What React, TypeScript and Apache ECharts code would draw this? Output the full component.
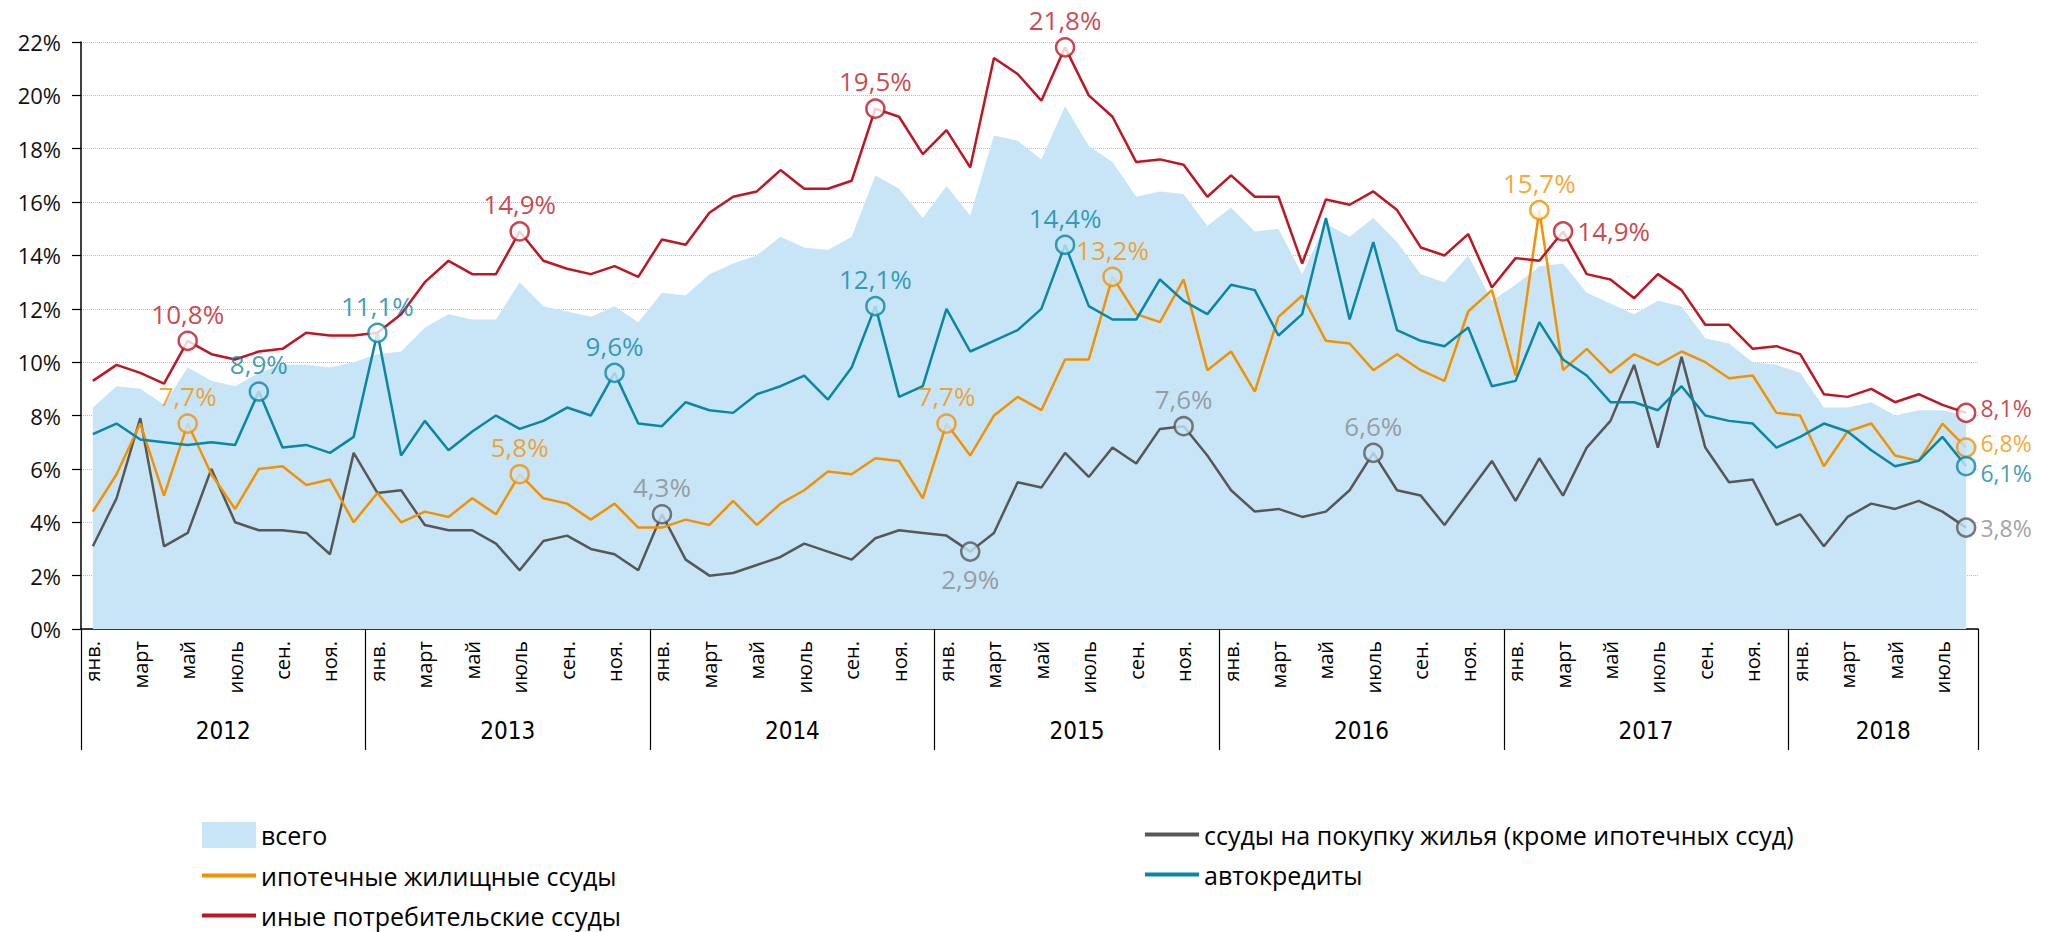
import React, { useEffect, useRef } from "react";
import * as echarts from "echarts";

// ---- categories ----
const monthNames = ["янв.", "февр.", "март", "апр.", "май", "июнь", "июль", "авг.", "сен.", "окт.", "ноя.", "дек."];
const years = [2012, 2013, 2014, 2015, 2016, 2017, 2018];
const monthsPerYear = [12, 12, 12, 12, 12, 12, 8];

// ---- series values, % ----
const total = [
  8.3, 9.1, 9.0, 8.4, 9.8, 9.3, 9.1, 9.6, 9.9, 9.9, 9.8, 10.0,
  10.3, 10.4, 11.3, 11.8, 11.6, 11.6, 13.0, 12.1, 11.9, 11.7, 12.1, 11.5,
  12.6, 12.5, 13.3, 13.7, 14.0, 14.7, 14.3, 14.2, 14.7, 17.0, 16.5, 15.4,
  16.6, 15.5, 18.5, 18.3, 17.6, 19.6, 18.1, 17.5, 16.2, 16.4, 16.3, 15.1,
  15.8, 14.9, 15.0, 13.3, 15.2, 14.7, 15.4, 14.5, 13.3, 13.0, 14.0, 12.3,
  12.9, 13.6, 13.7, 12.6, 12.2, 11.8, 12.3, 12.1, 10.9, 10.7, 10.0, 9.9,
  9.6, 8.3, 8.3, 8.5, 8.0, 8.2, 8.2, 8.0,
];
const mortgage = [
  4.4, 5.8, 7.7, 5.0, 7.7, 5.8, 4.5, 6.0, 6.1, 5.4, 5.6, 4.0,
  5.1, 4.0, 4.4, 4.2, 4.9, 4.3, 5.8, 4.9, 4.7, 4.1, 4.7, 3.8,
  3.8, 4.1, 3.9, 4.8, 3.9, 4.7, 5.2, 5.9, 5.8, 6.4, 6.3, 4.9,
  7.7, 6.5, 8.0, 8.7, 8.2, 10.1, 10.1, 13.2, 11.8, 11.5, 13.1, 9.7,
  10.4, 8.9, 11.7, 12.5, 10.8, 10.7, 9.7, 10.3, 9.7, 9.3, 11.9, 12.7,
  9.5, 15.7, 9.7, 10.5, 9.6, 10.3, 9.9, 10.4, 10.0, 9.4, 9.5, 8.1,
  8.0, 6.1, 7.4, 7.7, 6.5, 6.3, 7.7, 6.8,
];
const otherConsumer = [
  9.3, 9.9, 9.6, 9.2, 10.8, 10.3, 10.1, 10.4, 10.5, 11.1, 11.0, 11.0,
  11.1, 11.8, 13.0, 13.8, 13.3, 13.3, 14.9, 13.8, 13.5, 13.3, 13.6, 13.2,
  14.6, 14.4, 15.6, 16.2, 16.4, 17.2, 16.5, 16.5, 16.8, 19.5, 19.2, 17.8,
  18.7, 17.3, 21.4, 20.8, 19.8, 21.8, 20.0, 19.2, 17.5, 17.6, 17.4, 16.2,
  17.0, 16.2, 16.2, 13.7, 16.1, 15.9, 16.4, 15.7, 14.3, 14.0, 14.8, 12.8,
  13.9, 13.8, 14.9, 13.3, 13.1, 12.4, 13.3, 12.7, 11.4, 11.4, 10.5, 10.6,
  10.3, 8.8, 8.7, 9.0, 8.5, 8.8, 8.4, 8.1,
];
const housing = [
  3.1, 4.9, 7.9, 3.1, 3.6, 6.0, 4.0, 3.7, 3.7, 3.6, 2.8, 6.6,
  5.1, 5.2, 3.9, 3.7, 3.7, 3.2, 2.2, 3.3, 3.5, 3.0, 2.8, 2.2,
  4.3, 2.6, 2.0, 2.1, 2.4, 2.7, 3.2, 2.9, 2.6, 3.4, 3.7, 3.6,
  3.5, 2.9, 3.6, 5.5, 5.3, 6.6, 5.7, 6.8, 6.2, 7.5, 7.6, 6.5,
  5.2, 4.4, 4.5, 4.2, 4.4, 5.2, 6.6, 5.2, 5.0, 3.9, 5.1, 6.3,
  4.8, 6.4, 5.0, 6.8, 7.8, 9.9, 6.8, 10.2, 6.8, 5.5, 5.6, 3.9,
  4.3, 3.1, 4.2, 4.7, 4.5, 4.8, 4.4, 3.8,
];
const autoLoans = [
  7.3, 7.7, 7.1, 7.0, 6.9, 7.0, 6.9, 8.9, 6.8, 6.9, 6.6, 7.2,
  11.1, 6.5, 7.8, 6.7, 7.4, 8.0, 7.5, 7.8, 8.3, 8.0, 9.6, 7.7,
  7.6, 8.5, 8.2, 8.1, 8.8, 9.1, 9.5, 8.6, 9.8, 12.1, 8.7, 9.1,
  12.0, 10.4, 10.8, 11.2, 12.0, 14.4, 12.1, 11.6, 11.6, 13.1, 12.3, 11.8,
  12.9, 12.7, 11.0, 11.8, 15.4, 11.6, 14.5, 11.2, 10.8, 10.6, 11.3, 9.1,
  9.3, 11.5, 10.1, 9.5, 8.5, 8.5, 8.2, 9.1, 8.0, 7.8, 7.7, 6.8,
  7.2, 7.7, 7.4, 6.7, 6.1, 6.3, 7.2, 6.1,
];

// ---- annotated points: [monthIndex, labelPosition, labelShiftY] ----
const otherMarks: [number, string, number][] = [[4, "top", 0], [18, "top", 0], [33, "top", 0], [41, "top", 0], [62, "right", 0], [79, "right", -5]];
const autoMarks: [number, string, number][] = [[7, "top", 0], [12, "top", 0], [22, "top", 0], [33, "top", 0], [41, "top", 0], [79, "right", 7]];
const mortgageMarks: [number, string, number][] = [[4, "top", 0], [18, "top", 0], [36, "top", 0], [43, "top", 0], [61, "top", 0], [79, "right", -5]];
const housingMarks: [number, string, number][] = [[24, "top", 0], [37, "bottom", 0], [46, "top", 0], [54, "top", 0], [79, "right", 0]];

const names = {
  total: "всего",
  mortgage: "ипотечные жилищные ссуды",
  other: "иные потребительские ссуды",
  housing: "ссуды на покупку жилья (кроме ипотечных ссуд)",
  auto: "автокредиты",
};

const COLORS = {
  area: "#C8E5F8",
  red: "#BE1622",
  teal: "#0A86A6",
  orange: "#F39200",
  gray: "#575757",
  grayLabel: "#8A8A8A",
};

const FONT = "'Open Sans', 'Noto Sans', sans-serif";
const NARROW = "'Liberation Sans Narrow', 'DejaVu Sans Condensed', 'Open Sans', sans-serif";
const LINE_ICON = "path://M0,0 L54,0 L54,4 L0,4 Z";

const categories: string[] = [];
years.forEach((y, yi) => {
  for (let m = 0; m < monthsPerYear[yi]; m++) categories.push(monthNames[m] + " " + y);
});
const yearBounds: number[] = [0];
monthsPerYear.forEach((c, i) => yearBounds.push(yearBounds[i] + c));
const yearCenters = years.map((_, i) => (yearBounds[i] + yearBounds[i + 1]) / 2);

const fmt = (v: number) => v.toFixed(1).replace(".", ",") + "%";

function lineSeries(name: string, data: number[], color: string) {
  return {
    type: "line",
    name,
    data,
    symbol: "none",
    color,
    itemStyle: { color },
    lineStyle: { color, width: 2.5 },
    z: 3,
  };
}

function markSeries(name: string, data: number[], marks: [number, string, number][], stroke: string, labelColor: string) {
  return {
    type: "scatter",
    name: name + " (точки)",
    symbol: "circle",
    symbolSize: 18,
    z: 5,
    data: marks.map(([i, pos, dy]) => ({
      value: [i, data[i]],
      itemStyle: {
        color: data[i] > total[i] ? "#FFFFFF" : COLORS.area,
        borderColor: stroke,
        borderWidth: 2.5,
      },
      label: {
        show: true,
        position: pos,
        distance: pos === "right" ? 4 : 3,
        offset: [0, dy],
        formatter: fmt(data[i]),
        color: labelColor,
        fontSize: pos === "right" && i === 79 ? 23 : 26,
        lineHeight: pos === "right" ? 19 : 28,
        fontFamily: FONT,
      },
    })),
  };
}

const legendBase = {
  orient: "vertical",
  top: 822,
  padding: 0,
  itemWidth: 54,
  itemHeight: 26,
  itemGap: 15,
  selectedMode: false,
  textStyle: { fontSize: 25, lineHeight: 25, fontFamily: FONT, color: "#000" },
};

const option = {
  animation: false,
  backgroundColor: "#FFFFFF",
  grid: { left: 81, right: 69, top: 42, bottom: 303, containLabel: false },
  xAxis: [
    {
      type: "category",
      data: categories,
      boundaryGap: true,
      axisLine: { show: true, lineStyle: { color: "#000", width: 1.5 } },
      axisTick: { show: false },
      axisLabel: {
        interval: 1,
        rotate: 90,
        margin: 12,
        fontSize: 20,
        fontFamily: FONT,
        color: "#000",
        formatter: (v: string) => v.split(" ")[0],
      },
      splitLine: { show: false },
    },
    {
      type: "value",
      position: "bottom",
      min: 0,
      max: categories.length,
      axisLine: { show: false },
      axisTick: { show: true, customValues: yearBounds, length: 121, lineStyle: { color: "#000", width: 1.2 } },
      axisLabel: {
        customValues: yearCenters,
        margin: 90,
        fontSize: 24,
        fontFamily: NARROW,
        color: "#000",
        formatter: (v: number) => String(years[yearCenters.indexOf(v)]),
      },
      splitLine: { show: false },
    },
  ],
  yAxis: {
    type: "value",
    min: 0,
    max: 22,
    interval: 2,
    axisLine: { show: true, lineStyle: { color: "#000", width: 1.5 } },
    axisTick: { show: true, length: 9, lineStyle: { color: "#000", width: 1.2 } },
    axisLabel: { formatter: "{value}%", fontSize: 22, margin: 20, color: "#111", fontFamily: FONT },
    splitLine: { show: true, lineStyle: { type: "dotted", color: "#BDBDBD", width: 1 } },
  },
  legend: [
    {
      ...legendBase,
      left: 202,
      data: [
        { name: names.total, icon: "rect" },
        { name: names.mortgage, icon: LINE_ICON },
        { name: names.other, icon: LINE_ICON },
      ],
    },
    {
      ...legendBase,
      left: 1145,
      data: [
        { name: names.housing, icon: LINE_ICON },
        { name: names.auto, icon: LINE_ICON },
      ],
    },
  ],
  series: [
    {
      type: "line",
      name: names.total,
      data: total,
      symbol: "none",
      color: COLORS.area,
      itemStyle: { color: COLORS.area },
      lineStyle: { width: 0, color: COLORS.area },
      areaStyle: { color: COLORS.area, opacity: 1 },
      z: 1,
    },
    lineSeries(names.housing, housing, COLORS.gray),
    lineSeries(names.mortgage, mortgage, COLORS.orange),
    lineSeries(names.auto, autoLoans, COLORS.teal),
    lineSeries(names.other, otherConsumer, COLORS.red),
    markSeries(names.housing, housing, housingMarks, COLORS.gray, COLORS.grayLabel),
    markSeries(names.mortgage, mortgage, mortgageMarks, COLORS.orange, COLORS.orange),
    markSeries(names.auto, autoLoans, autoMarks, COLORS.teal, COLORS.teal),
    markSeries(names.other, otherConsumer, otherMarks, COLORS.red, COLORS.red),
  ],
};

export default function App() {
  const ref = useRef<HTMLDivElement>(null);
  useEffect(() => {
    document.body.style.margin = "0";
    const chart = echarts.init(ref.current!, undefined, { renderer: "svg" });
    chart.setOption(option as any);
    return () => chart.dispose();
  }, []);
  return <div ref={ref} style={{ width: 2047, height: 932 }} />;
}
